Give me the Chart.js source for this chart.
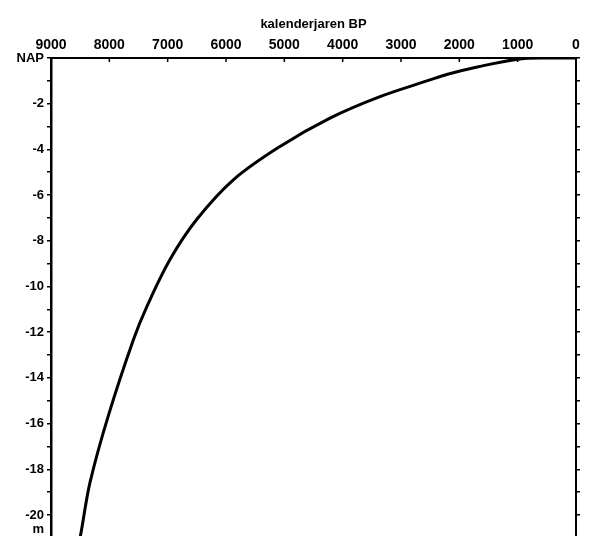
<!DOCTYPE html>
<html>
<head>
<meta charset="utf-8">
<script src="https://cdn.jsdelivr.net/npm/chart.js@4.4.1/dist/chart.umd.min.js"></script>
<style>
  html, body { margin: 0; padding: 0; background: #fff; }
  #wrap { width: 589px; height: 536px; position: relative; }
</style>
</head>
<body>
<div id="wrap"><canvas id="c" width="589" height="536"></canvas></div>
<script>
// Data (calendar years BP vs. depth in m relative to NAP)
const years  = [8530, 8474, 8331, 8018, 7589, 7355, 6960, 6503, 5874, 5074, 4217, 3360, 2503, 2217, 1674, 960, 500, 0];
const depths = [-21.4, -20.61, -18.57, -15.66, -12.34, -10.87, -8.82, -7.07, -5.33, -3.87, -2.63, -1.69, -0.96, -0.72, -0.38, -0.04, 0, 0];
const xTickValues = [9000, 8000, 7000, 6000, 5000, 4000, 3000, 2000, 1000, 0];
const yLabelMap = { 0: 'NAP', '-2': '-2', '-4': '-4', '-6': '-6', '-8': '-8', '-10': '-10', '-12': '-12', '-14': '-14', '-16': '-16', '-18': '-18', '-20': '-20' };
const xTitle = 'kalenderjaren BP';
const yUnit = 'm';

const FONT = "'Liberation Sans', Arial, sans-serif";
const points = years.map((y, i) => ({ x: y, y: depths[i] }));

const extras = {
  id: 'extras',
  afterDraw(chart) {
    const ctx = chart.ctx;
    const xs = chart.scales.x, ys = chart.scales.y;
    const top = chart.chartArea.top;
    ctx.save();
    ctx.strokeStyle = '#000';
    ctx.lineWidth = 1.5;
    xTickValues.forEach(v => {
      const px = xs.getPixelForValue(v);
      ctx.beginPath();
      ctx.moveTo(px, top);
      ctx.lineTo(px, top + 4);
      ctx.stroke();
    });
    ctx.fillStyle = '#000';
    ctx.font = 'bold 13px ' + FONT;
    ctx.textAlign = 'right';
    ctx.textBaseline = 'middle';
    ctx.fillText(yUnit, 44, ys.getPixelForValue(-20) + 14);
    ctx.restore();
  }
};

function zeroPad(s) { s.paddingTop = 0; s.paddingBottom = 0; }

new Chart(document.getElementById('c'), {
  type: 'scatter',
  data: {
    datasets: [{
      data: points,
      showLine: true,
      borderColor: '#000',
      borderWidth: 3,
      pointRadius: 0,
      tension: 0.35,
      fill: false
    }]
  },
  options: {
    responsive: false,
    animation: false,
    layout: { padding: 0 },
    plugins: { legend: { display: false }, tooltip: { enabled: false } },
    scales: {
      x: {
        type: 'linear',
        position: 'top',
        reverse: true,
        min: 0,
        max: 9000,
        afterFit(s) { s.height = 58; },
        afterBuildTicks(s) { s.ticks = xTickValues.map(v => ({ value: v })); },
        ticks: {
          color: '#000',
          font: { family: FONT, size: 14, weight: 'bold' },
          padding: 4,
          maxRotation: 0,
          autoSkip: false,
          callback: v => String(v)
        },
        grid: { drawOnChartArea: false, drawTicks: false, tickLength: 0 },
        border: { display: true, color: '#000', width: 2 },
        title: {
          display: true,
          text: xTitle,
          color: '#000',
          font: { family: FONT, size: 13, weight: 'bold' },
          padding: { top: 17, bottom: 0 }
        }
      },
      y: {
        type: 'linear',
        position: 'left',
        min: -20.92,
        max: 0,
        afterFit(s) { s.width = 51; zeroPad(s); },
        ticks: {
          stepSize: 1,
          includeBounds: false,
          color: '#000',
          font: { family: FONT, size: 13, weight: 'bold' },
          padding: 3,
          autoSkip: false,
          callback: v => (yLabelMap[v] !== undefined ? yLabelMap[v] : '')
        },
        grid: { drawOnChartArea: false, drawTicks: true, tickLength: 4, color: '#000', lineWidth: 1.5 },
        border: { display: true, color: '#000', width: 2.5 }
      },
      y2: {
        type: 'linear',
        position: 'right',
        min: -20.92,
        max: 0,
        afterFit(s) { s.width = 13; zeroPad(s); },
        ticks: {
          stepSize: 1,
          includeBounds: false,
          autoSkip: false,
          padding: 0,
          callback: () => ''
        },
        grid: { drawOnChartArea: false, drawTicks: true, tickLength: 4, color: '#000', lineWidth: 1.5 },
        border: { display: true, color: '#000', width: 2 }
      }
    }
  },
  plugins: [extras]
});
</script>
</body>
</html>
